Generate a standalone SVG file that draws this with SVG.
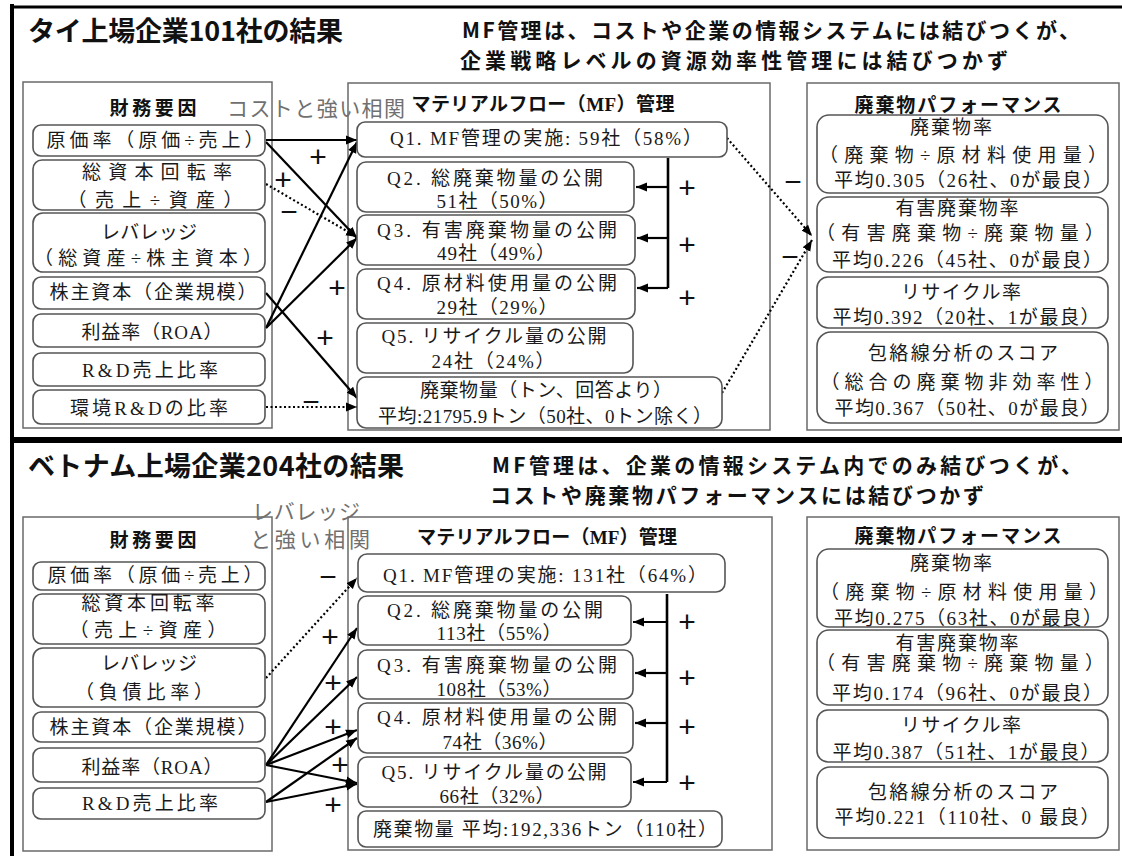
<svg xmlns="http://www.w3.org/2000/svg" width="1122" height="856" viewBox="0 0 1122 856">
<style>
.t{font-family:"Liberation Serif","Noto Sans CJK JP",serif;font-size:19px;fill:#1a1a1a;text-anchor:middle}
.h{font-family:"Liberation Serif","Noto Sans CJK JP",sans-serif;font-size:19px;font-weight:bold;fill:#111;text-anchor:middle}
.title{font-family:"Noto Sans CJK JP",sans-serif;font-size:27px;font-weight:bold;fill:#111}
.sub{font-family:"Noto Sans CJK JP",sans-serif;font-size:21px;font-weight:bold;fill:#111}
.gray{font-family:"Noto Sans CJK JP",sans-serif;font-size:21px;fill:#707070;text-anchor:middle}
.sign{font-family:"Liberation Sans",sans-serif;font-size:30px;fill:#111;text-anchor:middle}
.cont{fill:#fff;stroke:#6a6a6a;stroke-width:1.5}
.box{fill:#fff;stroke:#555;stroke-width:1.6}
.ln{stroke:#000;stroke-width:2.2;fill:none;marker-end:url(#ah)}
.dot{stroke-dasharray:2 2.5}
.br{stroke:#000;stroke-width:2.6;fill:none}
.frame{stroke:#000;fill:none}
</style>
<defs>
<marker id="ah" viewBox="0 0 10 10" refX="10" refY="5" markerWidth="11" markerHeight="11" markerUnits="userSpaceOnUse" orient="auto">
<path d="M0,1 L10,5 L0,9 z" fill="#000"/>
</marker>
</defs>
<rect width="1122" height="856" fill="#fff"/>

<g id="frame">
<line class="frame" x1="12" y1="4" x2="12" y2="856" stroke-width="4"/>
<line class="frame" x1="10" y1="7" x2="1122" y2="7" stroke-width="3"/>
<line class="frame" x1="10" y1="440" x2="1122" y2="440" stroke-width="6"/>
</g>

<!-- ===== TOP SECTION ===== -->
<g id="top-titles">
<text class="title" x="28" y="41" textLength="315">タイ上場企業101社の結果</text>
<text class="sub" x="462" y="38" textLength="618">MF管理は、コストや企業の情報システムには結びつくが、</text>
<text class="sub" x="460" y="68" textLength="548">企業戦略レベルの資源効率性管理には結びつかず</text>
</g>

<g id="top-fin-container">
<rect class="cont" x="23" y="82" width="249" height="346"/>
<text class="h" x="153" y="115" textLength="87">財務要因</text>
</g>
<g id="top-mf-container">
<rect class="cont" x="348" y="83" width="422" height="347"/>
<text class="h" x="543" y="111" textLength="263">マテリアルフロー（MF）管理</text>
</g>
<g id="top-wp-container">
<rect class="cont" x="807" y="83" width="312" height="347"/>
<text class="h" x="958" y="112" textLength="207">廃棄物パフォーマンス</text>
</g>
<text class="gray" x="316" y="116" textLength="178">コストと強い相関</text>

<g id="top-connectors">
<line class="ln" x1="266" y1="140" x2="357" y2="140"/>
<line class="ln" x1="266" y1="142" x2="357" y2="238"/>
<line class="ln dot" x1="266" y1="184" x2="357" y2="237"/>
<line class="ln" x1="266" y1="328" x2="357" y2="142"/>
<line class="ln" x1="266" y1="328" x2="357" y2="238"/>
<line class="ln" x1="266" y1="293" x2="357" y2="398"/>
<line class="ln dot" x1="266" y1="407" x2="357" y2="407"/>
<line class="ln dot" x1="727" y1="138" x2="812" y2="236"/>
<line class="ln dot" x1="722" y1="393" x2="812" y2="240"/>
<path class="br" d="M668,158 V288"/>
<line class="ln" x1="668" y1="187" x2="636" y2="187"/>
<line class="ln" x1="668" y1="238" x2="637" y2="238"/>
<line class="ln" x1="668" y1="288" x2="637" y2="288"/>
<text class="sign" x="318" y="167">+</text>
<text class="sign" x="283" y="190">+</text>
<text class="sign" x="289" y="222">−</text>
<text class="sign" x="337" y="298">+</text>
<text class="sign" x="325" y="348">+</text>
<text class="sign" x="311" y="412">−</text>
<text class="sign" x="687" y="198">+</text>
<text class="sign" x="687" y="255">+</text>
<text class="sign" x="687" y="308">+</text>
<text class="sign" x="793" y="192">−</text>
<text class="sign" x="790" y="267">−</text>
</g>

<g id="top-f1"><rect class="box" x="33" y="125" width="232" height="31" rx="8"/>
<text class="t" x="155" y="147" textLength="217">原価率（原価÷売上）</text></g>
<g id="top-f2"><rect class="box" x="33" y="160" width="232" height="50" rx="9"/>
<text class="t" x="157" y="179" textLength="150">総資本回転率</text>
<text class="t" x="155" y="207" textLength="175">（売上÷資産）</text></g>
<g id="top-f3"><rect class="box" x="33" y="213" width="232" height="59" rx="10"/>
<text class="t" x="149" y="239" textLength="96">レバレッジ</text>
<text class="t" x="148" y="265" textLength="228">（総資産÷株主資本）</text></g>
<g id="top-f4"><rect class="box" x="33" y="277" width="232" height="32" rx="8"/>
<text class="t" x="153" y="299" textLength="207">株主資本（企業規模）</text></g>
<g id="top-f5"><rect class="box" x="33" y="314" width="232" height="33" rx="8"/>
<text class="t" x="152" y="339" textLength="141">利益率（ROA）</text></g>
<g id="top-f6"><rect class="box" x="33" y="353" width="232" height="33" rx="8"/>
<text class="t" x="150" y="377" textLength="136">R&amp;D売上比率</text></g>
<g id="top-f7"><rect class="box" x="33" y="390" width="232" height="34" rx="8"/>
<text class="t" x="149" y="415" textLength="158">環境R&amp;Dの比率</text></g>

<g id="top-q1"><rect class="box" x="357" y="122" width="370" height="35" rx="8"/>
<text class="t" x="546" y="145" textLength="312">Q1. MF管理の実施: 59社（58%）</text></g>
<g id="top-q2"><rect class="box" x="357" y="162" width="277" height="50" rx="9"/>
<text class="t" x="495" y="185" textLength="216">Q2. 総廃棄物量の公開</text>
<text class="t" x="497" y="208" textLength="121">51社（50%）</text></g>
<g id="top-q3"><rect class="box" x="357" y="215" width="278" height="50" rx="9"/>
<text class="t" x="497" y="237" textLength="240">Q3. 有害廃棄物量の公開</text>
<text class="t" x="496" y="260" textLength="118">49社（49%）</text></g>
<g id="top-q4"><rect class="box" x="357" y="269" width="278" height="50" rx="9"/>
<text class="t" x="497" y="290" textLength="240">Q4. 原材料使用量の公開</text>
<text class="t" x="497" y="314" textLength="121">29社（29%）</text></g>
<g id="top-q5"><rect class="box" x="357" y="323" width="276" height="50" rx="9"/>
<text class="t" x="494" y="343" textLength="225">Q5. リサイクル量の公開</text>
<text class="t" x="493" y="368" textLength="123">24社（24%）</text></g>
<g id="top-waste"><rect class="box" x="357" y="377" width="365" height="51" rx="9"/>
<text class="t" x="546" y="397" textLength="252">廃棄物量（トン、回答より）</text>
<text class="t" x="545" y="423" textLength="334">平均:21795.9トン（50社、0トン除く）</text></g>

<g id="top-r1"><rect class="box" x="817" y="115" width="291" height="78" rx="12"/>
<text class="t" x="951" y="134" textLength="82">廃棄物率</text>
<text class="t" x="963" y="162" textLength="288">（廃棄物÷原材料使用量）</text>
<text class="t" x="968" y="187" textLength="268">平均0.305（26社、0が最良）</text></g>
<g id="top-r2"><rect class="box" x="817" y="197" width="291" height="75" rx="12"/>
<text class="t" x="957" y="215" textLength="123">有害廃棄物率</text>
<text class="t" x="960" y="240" textLength="288">（有害廃棄物÷廃棄物量）</text>
<text class="t" x="967" y="267" textLength="270">平均0.226（45社、0が最良）</text></g>
<g id="top-r3"><rect class="box" x="817" y="277" width="291" height="51" rx="11"/>
<text class="t" x="961" y="299" textLength="120">リサイクル率</text>
<text class="t" x="966" y="324" textLength="267">平均0.392（20社、1が最良）</text></g>
<g id="top-r4"><rect class="box" x="817" y="332" width="291" height="91" rx="14"/>
<text class="t" x="963" y="360" textLength="190">包絡線分析のスコア</text>
<text class="t" x="962" y="389" textLength="283">（総合の廃棄物非効率性）</text>
<text class="t" x="967" y="415" textLength="265">平均0.367（50社、0が最良）</text></g>

<!-- ===== BOTTOM SECTION ===== -->
<g id="bottom-titles">
<text class="title" x="28" y="476" textLength="376">ベトナム上場企業204社の結果</text>
<text class="sub" x="492" y="473" textLength="590">MF管理は、企業の情報システム内でのみ結びつくが、</text>
<text class="sub" x="490" y="503" textLength="494">コストや廃棄物パフォーマンスには結びつかず</text>
</g>

<g id="bottom-fin-container">
<rect class="cont" x="23" y="517" width="249" height="334"/>
<text class="h" x="153" y="547" textLength="87">財務要因</text>
</g>
<g id="bottom-mf-container">
<rect class="cont" x="348" y="517" width="424" height="333"/>
<text class="h" x="547" y="544" textLength="260">マテリアルフロー（MF）管理</text>
</g>
<g id="bottom-wp-container">
<rect class="cont" x="807" y="517" width="312" height="333"/>
<text class="h" x="958" y="543" textLength="207">廃棄物パフォーマンス</text>
</g>
<text class="gray" x="306" y="519" textLength="108">レバレッジ</text>
<text class="gray" x="310" y="547" textLength="120">と強い相関</text>

<g id="bottom-connectors">
<line class="ln dot" x1="266" y1="678" x2="357" y2="578"/>
<line class="ln" x1="266" y1="765" x2="357" y2="628"/>
<line class="ln" x1="266" y1="765" x2="357" y2="677"/>
<line class="ln" x1="266" y1="765" x2="357" y2="730"/>
<line class="ln" x1="266" y1="765" x2="357" y2="783"/>
<line class="ln" x1="266" y1="802" x2="357" y2="738"/>
<line class="ln" x1="266" y1="802" x2="357" y2="784"/>
<path class="br" d="M667,594 V782"/>
<line class="ln" x1="667" y1="622" x2="633" y2="622"/>
<line class="ln" x1="667" y1="673" x2="635" y2="673"/>
<line class="ln" x1="667" y1="723" x2="635" y2="723"/>
<line class="ln" x1="667" y1="782" x2="633" y2="782"/>
<text class="sign" x="328" y="587">−</text>
<text class="sign" x="330" y="647">+</text>
<text class="sign" x="333" y="693">+</text>
<text class="sign" x="333" y="737">+</text>
<text class="sign" x="340" y="775">+</text>
<text class="sign" x="333" y="815">+</text>
<text class="sign" x="687" y="632">+</text>
<text class="sign" x="687" y="688">+</text>
<text class="sign" x="687" y="737">+</text>
<text class="sign" x="687" y="793">+</text>
</g>

<g id="bottom-f1"><rect class="box" x="33" y="562" width="232" height="28" rx="8"/>
<text class="t" x="155" y="582" textLength="215">原価率（原価÷売上）</text></g>
<g id="bottom-f2"><rect class="box" x="33" y="594" width="232" height="50" rx="9"/>
<text class="t" x="148" y="610" textLength="133">総資本回転率</text>
<text class="t" x="148" y="637" textLength="157">（売上÷資産）</text></g>
<g id="bottom-f3"><rect class="box" x="33" y="648" width="232" height="59" rx="10"/>
<text class="t" x="149" y="670" textLength="96">レバレッジ</text>
<text class="t" x="144" y="699" textLength="138">（負債比率）</text></g>
<g id="bottom-f4"><rect class="box" x="33" y="712" width="232" height="30" rx="8"/>
<text class="t" x="153" y="734" textLength="207">株主資本（企業規模）</text></g>
<g id="bottom-f5"><rect class="box" x="33" y="748" width="232" height="34" rx="8"/>
<text class="t" x="152" y="774" textLength="141">利益率（ROA）</text></g>
<g id="bottom-f6"><rect class="box" x="33" y="788" width="232" height="31" rx="8"/>
<text class="t" x="150" y="810" textLength="136">R&amp;D売上比率</text></g>

<g id="bottom-q1"><rect class="box" x="358" y="554" width="367" height="38" rx="9"/>
<text class="t" x="545" y="582" textLength="324">Q1. MF管理の実施: 131社（64%）</text></g>
<g id="bottom-q2"><rect class="box" x="358" y="596" width="273" height="49" rx="9"/>
<text class="t" x="495" y="617" textLength="216">Q2. 総廃棄物量の公開</text>
<text class="t" x="499" y="640" textLength="125">113社（55%）</text></g>
<g id="bottom-q3"><rect class="box" x="358" y="650" width="275" height="49" rx="9"/>
<text class="t" x="497" y="672" textLength="240">Q3. 有害廃棄物量の公開</text>
<text class="t" x="499" y="696" textLength="125">108社（53%）</text></g>
<g id="bottom-q4"><rect class="box" x="358" y="703" width="275" height="50" rx="9"/>
<text class="t" x="497" y="724" textLength="240">Q4. 原材料使用量の公開</text>
<text class="t" x="500" y="749" textLength="115">74社（36%）</text></g>
<g id="bottom-q5"><rect class="box" x="358" y="757" width="273" height="50" rx="9"/>
<text class="t" x="494" y="779" textLength="225">Q5. リサイクル量の公開</text>
<text class="t" x="497" y="803" textLength="115">66社（32%）</text></g>
<g id="bottom-waste"><rect class="box" x="358" y="811" width="364" height="36" rx="8"/>
<text class="t" x="545" y="836" textLength="344">廃棄物量 平均:192,336トン（110社）</text></g>

<g id="bottom-r1"><rect class="box" x="817" y="549" width="291" height="78" rx="12"/>
<text class="t" x="951" y="570" textLength="82">廃棄物率</text>
<text class="t" x="964" y="599" textLength="288">（廃棄物÷原材料使用量）</text>
<text class="t" x="968" y="625" textLength="268">平均0.275（63社、0が最良）</text></g>
<g id="bottom-r2"><rect class="box" x="817" y="630" width="291" height="75" rx="12"/>
<text class="t" x="957" y="650" textLength="123">有害廃棄物率</text>
<text class="t" x="960" y="670" textLength="288">（有害廃棄物÷廃棄物量）</text>
<text class="t" x="967" y="700" textLength="270">平均0.174（96社、0が最良）</text></g>
<g id="bottom-r3"><rect class="box" x="817" y="710" width="291" height="52" rx="11"/>
<text class="t" x="961" y="732" textLength="120">リサイクル率</text>
<text class="t" x="966" y="759" textLength="267">平均0.387（51社、1が最良）</text></g>
<g id="bottom-r4"><rect class="box" x="817" y="767" width="291" height="71" rx="13"/>
<text class="t" x="963" y="799" textLength="190">包絡線分析のスコア</text>
<text class="t" x="967" y="824" textLength="265">平均0.221（110社、0 最良）</text></g>
</svg>
